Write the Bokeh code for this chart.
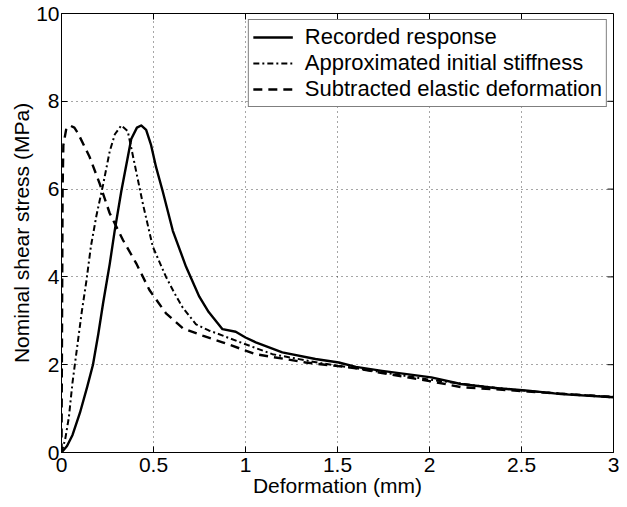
import math
from bokeh.plotting import figure
from bokeh.models import FixedTicker, Legend, LegendItem, Range1d
from bokeh.embed import file_html
from bokeh.resources import INLINE

# Recorded response (solid)
rec_x = [0, 0.03, 0.06, 0.1, 0.14, 0.171, 0.2, 0.226, 0.262, 0.289, 0.325, 0.379, 0.41, 0.433,
         0.46, 0.487, 0.514, 0.55, 0.605, 0.677, 0.749, 0.8, 0.875, 0.947, 1.0, 1.056, 1.2, 1.38,
         1.507, 1.6, 1.742, 2.01, 2.17, 2.355, 2.535, 2.716, 3.0]
rec_y = [0, 0.15, 0.4, 0.9, 1.5, 2.0, 2.7, 3.4, 4.29, 5.05, 5.95, 7.14, 7.4, 7.45,
         7.35, 7.0, 6.5, 5.95, 5.05, 4.23, 3.55, 3.2, 2.81, 2.75, 2.62, 2.51, 2.28, 2.13,
         2.05, 1.95, 1.86, 1.71, 1.56, 1.47, 1.41, 1.33, 1.26]

# Approximated initial stiffness (dash-dot)
app_x = [0, 0.02, 0.04, 0.06, 0.085, 0.11, 0.135, 0.16, 0.19, 0.226, 0.262, 0.29, 0.325, 0.36,
         0.397, 0.442, 0.496, 0.568, 0.614, 0.659, 0.731, 0.8, 0.84, 0.965, 1.146, 1.417, 1.6,
         2.0, 2.3, 2.535, 2.75, 3.0]
app_y = [0, 0.3, 0.8, 1.6, 2.4, 3.2, 3.9, 4.7, 5.4, 6.1, 6.86, 7.25, 7.45, 7.32,
         6.58, 5.67, 4.69, 4.0, 3.63, 3.3, 2.92, 2.78, 2.72, 2.52, 2.24, 2.03, 1.92,
         1.66, 1.5, 1.4, 1.33, 1.27]

# Subtracted elastic deformation (dashed)
sub_x = [0, 0.002, 0.004, 0.006, 0.01, 0.025, 0.045, 0.07, 0.09, 0.153, 0.207, 0.262, 0.334,
         0.406, 0.478, 0.568, 0.659, 0.767, 0.875, 1.056, 1.327, 1.6, 1.742, 2.01, 2.17, 2.535, 3.0]
sub_y = [0, 2, 4, 6, 7.0, 7.35, 7.45, 7.4, 7.27, 6.73, 6.13, 5.45, 4.84,
         4.31, 3.7, 3.17, 2.83, 2.66, 2.51, 2.24, 2.05, 1.92, 1.81, 1.62, 1.49, 1.39, 1.26]

x_ticks = [0, 0.5, 1, 1.5, 2, 2.5, 3]
x_tick_labels = ["0", "0.5", "1", "1.5", "2", "2.5", "3"]
y_ticks = [0, 2, 4, 6, 8, 10]

FONT = "Liberation Sans"
FS = "21px"

x_lo, x_hi = x_ticks[0], x_ticks[-1]
y_lo, y_hi = y_ticks[0], y_ticks[-1]

p = figure(width=619, height=499, output_backend="svg", toolbar_location=None,
           x_range=Range1d(x_lo, x_hi), y_range=Range1d(y_lo, y_hi),
           min_border_left=61, min_border_right=6, min_border_top=13, min_border_bottom=46)
p.outline_line_color = "black"
p.outline_line_width = 1

r1 = p.line(rec_x, rec_y, line_color="black", line_width=2.4, line_join="round")
r2 = p.line(app_x, app_y, line_color="black", line_width=2, line_dash="6 3 2 3")
r3 = p.line(sub_x, sub_y, line_color="black", line_width=2.4, line_dash="9 6")

# inward ticks on the top and right edges of the box
p.ray(x=x_ticks, y=[y_hi] * len(x_ticks), length=6, length_units="screen",
      angle=-math.pi / 2, line_color="black", line_width=1)
p.ray(x=[x_hi] * len(y_ticks), y=y_ticks, length=6, length_units="screen",
      angle=math.pi, line_color="black", line_width=1)

p.xaxis.ticker = FixedTicker(ticks=x_ticks)
p.xaxis.major_label_overrides = {t: l for t, l in zip(x_ticks, x_tick_labels)}
p.xaxis.axis_label = "Deformation (mm)"
p.yaxis.ticker = FixedTicker(ticks=y_ticks)
p.yaxis.axis_label = "Nominal shear stress (MPa)"

for ax in p.xaxis + p.yaxis:
    ax.major_tick_in = 6
    ax.major_tick_out = 0
    ax.minor_tick_line_color = None
    ax.axis_line_color = "black"
    ax.major_tick_line_color = "black"
    ax.major_label_text_font = FONT
    ax.major_label_text_font_size = FS
    ax.major_label_text_color = "black"
    ax.axis_label_text_font = FONT
    ax.axis_label_text_font_size = FS
    ax.axis_label_text_font_style = "normal"
    ax.axis_label_text_color = "black"
p.xaxis.major_label_standoff = 5
p.xaxis.axis_label_standoff = -1
p.yaxis.major_label_standoff = 2
p.yaxis.axis_label_standoff = 0

p.xgrid.ticker = FixedTicker(ticks=x_ticks)
p.ygrid.ticker = FixedTicker(ticks=y_ticks)
for g in (p.xgrid, p.ygrid):
    g.grid_line_color = "black"
    g.grid_line_alpha = 0.7
    g.grid_line_width = 1
    g.grid_line_dash = "1 4"

legend = Legend(items=[
    LegendItem(label="Recorded response", renderers=[r1]),
    LegendItem(label="Approximated initial stiffness", renderers=[r2]),
    LegendItem(label="Subtracted elastic deformation", renderers=[r3]),
], location="top_right")
legend.label_text_font = FONT
legend.label_text_font_size = "22px"
legend.label_text_color = "black"
legend.border_line_color = "black"
legend.border_line_width = 1
legend.background_fill_alpha = 1
legend.glyph_width = 40
legend.glyph_height = 24
legend.label_height = 24
legend.spacing = 0
legend.padding = 4
legend.margin = 6
legend.label_standoff = 12
p.add_layout(legend)

open("out.html", "w").write(file_html(p, INLINE))
